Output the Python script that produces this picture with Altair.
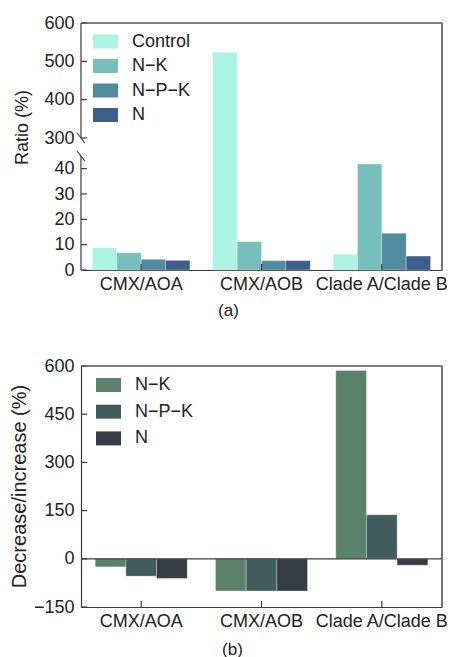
import altair as alt
import pandas as pd

# ---------------- data ----------------
categories = ["CMX/AOA", "CMX/AOB", "Clade A/Clade B"]

ratio_series = ["Control", "N\u2212K", "N\u2212P\u2212K", "N"]
ratio_control = [8.8, 524.0, 6.2]
ratio_nk = [6.8, 11.2, 41.8]
ratio_npk = [4.2, 3.7, 14.5]
ratio_n = [3.8, 3.7, 5.5]
ratio_colors = ["#adf3e2", "#76bfbd", "#508b9f", "#3c5e8a"]
ratio_ticks = [0, 10, 20, 30, 40, 300, 400, 500, 600]
ratio_seg_lo = [0, 300]
ratio_seg_hi = [45, 600]
ratio_breaks = [300, 45]

change_series = ["N\u2212K", "N\u2212P\u2212K", "N"]
change_nk = [-25, -100, 586]
change_npk = [-54, -100, 137]
change_n = [-61, -100, -20]
change_colors = ["#5b816a", "#415d5d", "#353c44"]
change_ticks = [-150, 0, 150, 300, 450, 600]

FONT = "Liberation Sans"
AX = "#3a3a3a"
TXT = "#222222"
W = 361
H1 = 247
H2 = 241

# ---------------- tables ----------------
ratio_df = pd.DataFrame({
    "category": categories * 4,
    "series": [s for s in ratio_series for _ in categories],
    "value": ratio_control + ratio_nk + ratio_npk + ratio_n,
})
change_df = pd.DataFrame({
    "category": categories * 3,
    "series": [s for s in change_series for _ in categories],
    "value": change_nk + change_npk + change_n,
})
cat_df = pd.DataFrame({"category": categories})

rect_path = "M-1,-0.56L1,-0.56L1,0.56L-1,0.56Z"

# ---------------- top chart (a) ----------------
ys1 = alt.Scale(domain=[0, 45, 300, 600], range=[H1, 133, 115, 0], nice=False, zero=False)
yax1 = alt.Axis(values=ratio_ticks, title="Ratio (%)", domain=False, ticks=False, grid=False,
                labelPadding=7, titleFontSize=18, titleX=-59, titleY=104,
                titleBaseline="middle", titleAlign="center", titleAngle=-90)
xs1 = alt.Scale(domain=categories, paddingInner=0.19, paddingOuter=0.095)
xax1 = alt.Axis(title="(a)", ticks=False, labelAngle=0, labelPadding=5, grid=False,
                titleFontSize=17, titleX=147, titleY=40, titleBaseline="middle")

Y1 = lambda f: alt.Y(f, type="quantitative", scale=ys1, axis=yax1)

bars1 = alt.Chart(ratio_df).mark_bar(stroke="white", strokeWidth=0.5, strokeOpacity=0.6).encode(
    x=alt.X("category:N", scale=xs1, axis=xax1),
    xOffset=alt.XOffset("series:N", sort=ratio_series,
                        scale=alt.Scale(domain=ratio_series, paddingInner=0, paddingOuter=0)),
    y=Y1("value"),
    color=alt.Color("series:N", sort=ratio_series,
                    scale=alt.Scale(domain=ratio_series, range=ratio_colors),
                    legend=alt.Legend(title=None, orient="none", legendX=12, legendY=6,
                                      symbolType=rect_path, symbolSize=625, symbolStrokeWidth=0,
                                      labelOffset=14, rowPadding=2.5, padding=0, labelFontSize=18)),
)

seg1 = alt.Chart(pd.DataFrame({"value": ratio_seg_lo, "value2": ratio_seg_hi})).mark_rule(
    color=AX, strokeWidth=1.2).encode(x=alt.value(0), y=Y1("value"), y2="value2:Q")
yt1 = alt.Chart(pd.DataFrame({"value": ratio_ticks})).mark_rule(color=AX, strokeWidth=1.2).encode(
    x=alt.value(0), x2=alt.value(6), y=Y1("value"))
brk1 = alt.Chart(pd.DataFrame({"value": ratio_breaks})).mark_rule(
    color=AX, strokeWidth=1.2, yOffset=-5, y2Offset=5).encode(
    x=alt.value(-4), x2=alt.value(4), y=Y1("value"), y2="value:Q")
xt1 = alt.Chart(cat_df).mark_rule(color=AX, strokeWidth=1.2).encode(
    x=alt.X("category:N", scale=xs1, axis=xax1, bandPosition=0.5),
    y=alt.value(H1), y2=alt.value(H1 - 6))
top1 = alt.Chart(pd.DataFrame({"value": [600]})).mark_rule(color="#555555", strokeWidth=1.5).encode(
    x=alt.value(0), x2=alt.value(W), y=Y1("value"))
right1 = alt.Chart(pd.DataFrame({"value": [0], "value2": [600]})).mark_rule(
    color="#666666", strokeWidth=1.8).encode(x=alt.value(W), y=Y1("value"), y2="value2:Q")

chart_a = alt.layer(bars1, seg1, yt1, brk1, xt1, top1, right1).properties(width=W, height=H1)

# ---------------- bottom chart (b) ----------------
ys2 = alt.Scale(domain=[-150, 600], nice=False, zero=False)
yax2 = alt.Axis(values=change_ticks, title="Decrease/increase (%)", domain=True, ticks=False,
                grid=False, labelPadding=7, titleFontSize=20, titleX=-62, titleY=120,
                titleBaseline="middle", titleAlign="center", titleAngle=-90)
xs2 = alt.Scale(domain=categories, paddingInner=0.235, paddingOuter=0.118)
xax2 = alt.Axis(title="(b)", ticks=False, labelAngle=0, labelPadding=5, grid=False,
                titleFontSize=17, titleX=151, titleY=42, titleBaseline="middle")

Y2 = lambda f: alt.Y(f, type="quantitative", scale=ys2, axis=yax2)

bars2 = alt.Chart(change_df).mark_bar(stroke="white", strokeWidth=0.5, strokeOpacity=0.6).encode(
    x=alt.X("category:N", scale=xs2, axis=xax2),
    xOffset=alt.XOffset("series:N", sort=change_series,
                        scale=alt.Scale(domain=change_series, paddingInner=0, paddingOuter=0)),
    y=Y2("value"),
    color=alt.Color("series:N", sort=change_series,
                    scale=alt.Scale(domain=change_series, range=change_colors),
                    legend=alt.Legend(title=None, orient="none", legendX=15, legendY=6.5,
                                      symbolType=rect_path, symbolSize=625, symbolStrokeWidth=0,
                                      labelOffset=14, rowPadding=4.7, padding=0, labelFontSize=18)),
)
yt2 = alt.Chart(pd.DataFrame({"value": change_ticks})).mark_rule(color=AX, strokeWidth=1.2).encode(
    x=alt.value(0), x2=alt.value(6), y=Y2("value"))
zero2 = alt.Chart(pd.DataFrame({"value": [0]})).mark_rule(color=AX, strokeWidth=1.2).encode(
    x=alt.value(0), x2=alt.value(W), y=Y2("value"))
xt2 = alt.Chart(cat_df).mark_rule(color=AX, strokeWidth=1.2).encode(
    x=alt.X("category:N", scale=xs2, axis=xax2, bandPosition=0.5),
    y=alt.value(H2), y2=alt.value(H2 - 6))
top2 = alt.Chart(pd.DataFrame({"value": [600]})).mark_rule(color="#555555", strokeWidth=1.5).encode(
    x=alt.value(0), x2=alt.value(W), y=Y2("value"))
right2 = alt.Chart(pd.DataFrame({"value": [-150], "value2": [600]})).mark_rule(
    color="#666666", strokeWidth=1.8).encode(x=alt.value(W), y=Y2("value"), y2="value2:Q")

chart_b = alt.layer(bars2, yt2, zero2, xt2, top2, right2).properties(width=W, height=H2)

chart = alt.vconcat(chart_a, chart_b, spacing=39).resolve_scale(
    color="independent", x="independent", y="independent", xOffset="independent"
).properties(
    padding={"left": 8, "top": 14, "right": 5, "bottom": 5},
    background="white",
).configure_view(stroke=None).configure_axis(
    labelFont=FONT, labelFontSize=18, labelColor=TXT, titleFont=FONT, titleColor=TXT,
    titleFontWeight="normal", domainColor=AX, domainWidth=1.2
).configure_legend(labelFont=FONT, labelColor=TXT)

chart.save("out.html", embed_options={"renderer": "svg", "actions": False})
